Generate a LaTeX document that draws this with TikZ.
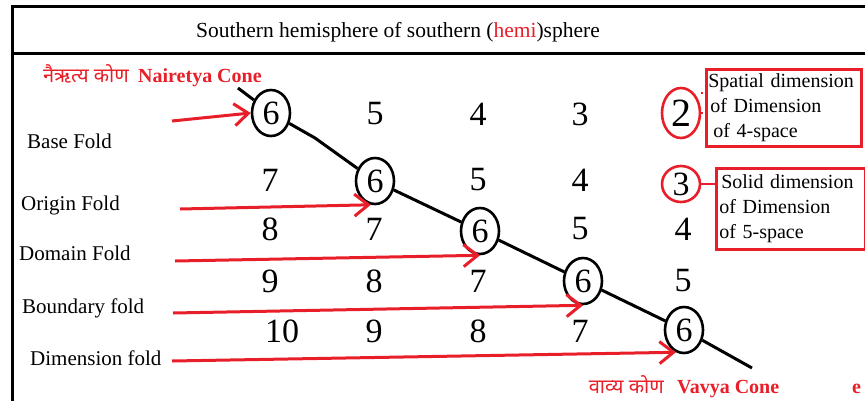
\documentclass[tikz,border=0pt]{standalone}
\usepackage{fontspec}
\setmainfont{Liberation Serif}
\newfontfamily\deva[Script=Devanagari]{Noto Sans}
\usetikzlibrary{shapes.geometric,arrows.meta}
\definecolor{pred}{RGB}{232,30,40}
\begin{document}
\begin{tikzpicture}[x=1pt,y=-1pt,
  num/.style={font=\fontsize{34}{34}\selectfont, inner sep=0pt},
  ring/.style={num, draw, ellipse, line width=2.6pt, minimum width=38pt, minimum height=46pt},
  rring/.style={num, draw=pred, ellipse, line width=2.6pt},
  lbl/.style={font=\fontsize{21}{21}\selectfont, anchor=base west, inner sep=0pt},
  arr/.style={draw=pred, line width=3pt, -{Straight Barb[length=14pt,width=22pt,line width=3pt]}},
  conel/.style={line width=3pt},
  infobox/.style={draw=pred, line width=2.6pt, align=left, font=\fontsize{20}{25}\selectfont, inner xsep=2pt, inner ysep=0pt, anchor=north west},
  conelbl/.style={text=pred, font=\bfseries\fontsize{20}{20}\selectfont, inner sep=0pt, anchor=base west},
  devalbl/.style={text=pred, font=\deva\bfseries\fontsize{20}{20}\selectfont, inner sep=0pt, anchor=base east}]
\useasboundingbox (0,0) rectangle (865,400);
% frame
\draw[line width=3pt] (866,6.5) -- (12,6.5) -- (12,402);
\draw[line width=3pt] (12,53.5) -- (866,53.5);
\node[font=\fontsize{21.5}{21.5}\selectfont] (title) at (398,32) {Southern hemisphere of southern (\textcolor{pred}{hemi})sphere};

% cone labels
\node[conelbl] (nair) at (138,82) {Nairetya Cone};
\node[devalbl] (nairdeva) at (129,82) {नैऋत्य कोण};
\node[conelbl] (vav) at (677,393) {Vavya Cone};
\node[devalbl] (vavdeva) at (664,393) {वाव्य कोण};
\node[conelbl] (stray) at (852,393) {e};

% row labels
\node[lbl] (base) at (27,148) {Base Fold};
\node[lbl] (origin) at (21,210) {Origin Fold};
\node[lbl] (domain) at (19,260) {Domain Fold};
\node[lbl] (boundary) at (22,313) {Boundary fold};
\node[lbl] (dimension) at (30,365) {Dimension fold};

% circled sixes
\node[ring] (c1) at (271,113) {6};
\node[ring] (c2) at (375,181) {6};
\node[ring] (c3) at (480,231) {6};
\node[ring] (c4) at (583,281) {6};
\node[ring] (c5) at (684,330) {6};

% row 1
\node[num] (r1b) at (375,114) {5};
\node[num] (r1c) at (478,114) {4};
\node[num] (r1d) at (580,114) {3};
% row 2
\node[num] (r2a) at (270,180) {7};
\node[num] (r2c) at (478,180) {5};
\node[num] (r2d) at (580,180) {4};
% row 3
\node[num] (r3a) at (270,229) {8};
\node[num] (r3b) at (374,229) {7};
\node[num] (r3d) at (580,229) {5};
\node[num] (r3e) at (683,229) {4};
% row 4
\node[num] (r4a) at (270,281) {9};
\node[num] (r4b) at (374,281) {8};
\node[num] (r4c) at (478,281) {7};
\node[num] (r4e) at (683,281) {5};
% row 5
\node[num] (r5a) at (282,331) {10};
\node[num] (r5b) at (374,331) {9};
\node[num] (r5c) at (478,331) {8};
\node[num] (r5d) at (580,331) {7};

% red circled numbers and boxes
\node[rring, font=\fontsize{40}{40}\selectfont, minimum width=38pt, minimum height=50pt] (e2) at (681,113) {2};
\node[rring, minimum width=38pt, minimum height=36pt] (e3) at (681,184) {3};
\node[infobox, minimum width=155pt, minimum height=77pt, text width=151pt] (box1) at (705,68)
  {Spatial dimension\\\hspace*{2pt}of Dimension\\\hspace*{5pt}of 4-space};
\node[infobox, minimum width=149pt, minimum height=81pt, text width=145pt] (box2) at (715,167)
  {\hspace*{3pt}Solid dimension\\\hspace*{1pt}of Dimension\\\hspace*{1pt}of 5-space};
\draw[pred, line width=2.6pt] (e3.east) -- (e3.east -| box2.west);
\coordinate (dtop) at (702,92);
\coordinate (dbot) at (702,132);
\draw[pred, line width=1.6pt, dash pattern=on 2pt off 18pt] (dtop) -- (dbot);

% cone diagonal
\coordinate (ls) at (238,88);
\coordinate (bend) at (315,138);
\coordinate (le) at (752,368);
\draw[conel] (ls) -- (c1);
\draw[conel] (c1) -- (bend) -- (c2);
\draw[conel] (c2) -- (c3);
\draw[conel] (c3) -- (c4);
\draw[conel] (c4) -- (c5);
\draw[conel] (c5) -- (le);

% red arrows
\coordinate (t1) at (172,121);
\coordinate (t2) at (180,209);
\coordinate (t3) at (175,261);
\coordinate (t4) at (173,313);
\coordinate (t5) at (172,361);
\draw[arr] (t1) -- (c1.west);
\draw[arr] (t2) -- (c2.260);
\draw[arr] (t3) -- (c3.south);
\draw[arr] (t4) -- (c4.south);
\draw[arr] (t5) -- (c5.250);
\end{tikzpicture}
\end{document}
